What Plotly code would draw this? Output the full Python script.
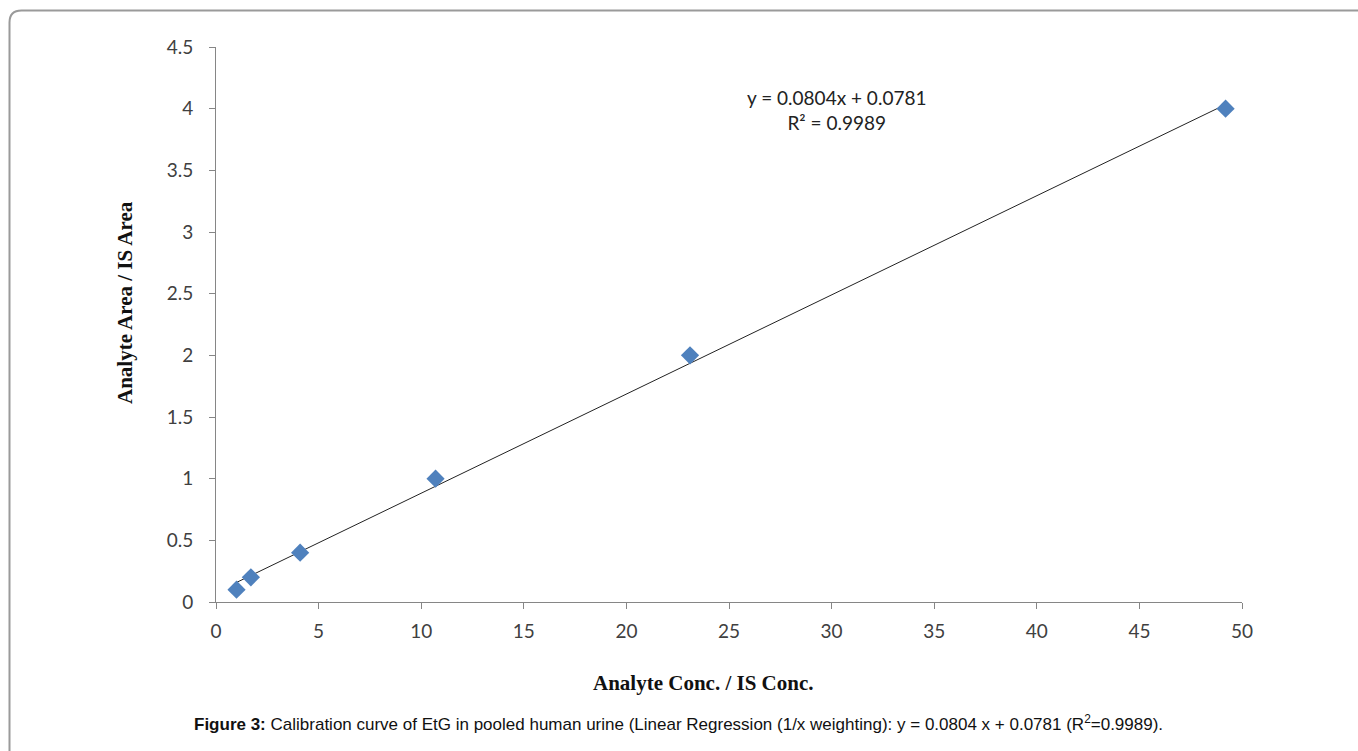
import plotly.graph_objects as go

# Data
conc_ratio = [1.0, 1.7, 4.1, 10.7, 23.1, 49.2]
area_ratio = [0.1, 0.2, 0.4, 1.0, 2.0, 4.0]
slope = 0.0804
intercept = 0.0781
r_squared = 0.9989
x_ticks = [0, 5, 10, 15, 20, 25, 30, 35, 40, 45, 50]
y_ticks = [0, 0.5, 1, 1.5, 2, 2.5, 3, 3.5, 4, 4.5]
y_tick_labels = ["0", "0.5", "1", "1.5", "2", "2.5", "3", "3.5", "4", "4.5"]

W, H = 1358, 751
L, R, T, B = 216, 1242, 47, 602

def px(x):
    return (x - L) / (R - L)

def py(y):
    return (B - y) / (B - T)

trend_x = [conc_ratio[0], conc_ratio[-1]]
trend_y = [slope * v + intercept for v in trend_x]

fig = go.Figure()
fig.add_trace(go.Scatter(x=trend_x, y=trend_y, mode="lines",
                         line=dict(color="#222222", width=1), hoverinfo="skip",
                         showlegend=False))
fig.add_trace(go.Scatter(x=conc_ratio, y=area_ratio, mode="markers",
                         marker=dict(symbol="diamond", size=14, color="#4F81BD",
                                     line=dict(width=0)),
                         showlegend=False))

tick_font = dict(family="Lato, Open Sans, sans-serif", size=19, color="#404040")
fig.update_xaxes(range=[0, 50], tickvals=x_ticks, ticks="outside", ticklen=6,
                 tickcolor="#868686", showline=True, linecolor="#868686", linewidth=1,
                 showgrid=False, zeroline=False, tickfont=tick_font,
                 ticklabelstandoff=6)
fig.update_yaxes(range=[0, 4.5], tickvals=y_ticks, ticktext=y_tick_labels,
                 ticks="outside", ticklen=6,
                 tickcolor="#868686", showline=True, linecolor="#868686", linewidth=1,
                 showgrid=False, zeroline=False, tickfont=tick_font,
                 ticklabelstandoff=12)

eq_text = f"y = {slope}x + {intercept}<br>R² = {r_squared}"
caption = ("<b>Figure 3:</b> Calibration curve of EtG in pooled human urine "
           "(Linear Regression (1/x weighting): y = 0.0804 x + 0.0781 "
           "(R<sup>2</sup>=0.9989).")

common = dict(xref="paper", yref="paper", showarrow=False,
              xanchor="center", yanchor="middle")
annotations = [
    dict(text=eq_text, x=px(836), y=py(110), align="center",
         font=dict(family="Lato, Open Sans, sans-serif", size=19,
                   color="#222222"), **common),
    dict(text="<b>Analyte Conc. / IS Conc.</b>", x=px(703), y=py(683),
         font=dict(family="Liberation Serif, serif", size=21, color="#111111"),
         **common),
    dict(text="<b>Analyte Area / IS Area</b>", x=px(125), y=py(303), textangle=-90,
         font=dict(family="Liberation Serif, serif", size=21, color="#111111"),
         **common),
    dict(text=caption, x=px(678), y=py(723),
         font=dict(family="Liberation Sans, Arial, sans-serif", size=17,
                   color="#111111"), **common),
]

# rounded border (top-left corner only visible)
x0, y0, rr = 9.5, 10.5, 12
path = (f"M {px(W + 5)} {py(y0)} L {px(x0 + rr)} {py(y0)} "
        f"Q {px(x0)} {py(y0)} {px(x0)} {py(y0 + rr)} L {px(x0)} {py(H + 5)}")
shapes = [dict(type="path", path=path, xref="paper", yref="paper",
               line=dict(color="#9a9a9a", width=2))]

fig.update_layout(width=W, height=H, margin=dict(l=L, r=W - R, t=T, b=H - B),
                  paper_bgcolor="white", plot_bgcolor="white",
                  annotations=annotations, shapes=shapes)

fig.write_html("out.html")
